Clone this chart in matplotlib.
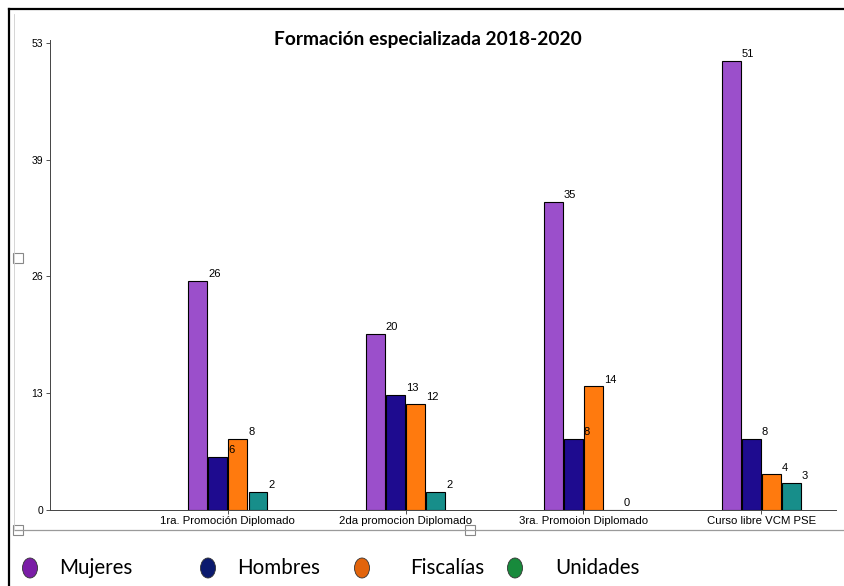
import matplotlib
matplotlib.use("Agg")
import matplotlib.pyplot as plt
from matplotlib.patches import Ellipse, Rectangle
from matplotlib.lines import Line2D
import numpy as np

categories = ["1ra. Promoción Diplomado", "2da promocion Diplomado",
              "3ra. Promoion Diplomado", "Curso libre VCM PSE"]
series_names = ["Mujeres", "Hombres", "Fiscalías", "Unidades"]
mujeres = [26, 20, 35, 51]
hombres = [6, 13, 8, 8]
fiscalias = [8, 12, 14, 4]
unidades = [2, 2, 0, 3]
ytick_values = [0, 13.25, 26.5, 39.75, 53]
ytick_labels = ["0", "13", "26", "39", "53"]
title = "Formación especializada 2018-2020"

bar_colors = ["#9B4FCB", "#1E0B8F", "#FF7A0E", "#178E8A"]
legend_colors = ["#7A1DA6", "#0B1A6E", "#E2640C", "#188A3C"]

W, H = 844, 586
fig = plt.figure(figsize=(W / 100, H / 100), dpi=100)
fig.patch.set_facecolor("white")

def fx(px):
    return px / W

def fy(py):
    return 1 - py / H

ax = fig.add_axes([fx(50), fy(509.5), fx(836) - fx(50), fy(40.5) - fy(509.5)])
ax.set_facecolor("none")

x = np.arange(1, len(categories) + 1)
step = 0.113
width = 0.106
all_series = [mujeres, hombres, fiscalias, unidades]
for i, (vals, col) in enumerate(zip(all_series, bar_colors)):
    pos = x + (i - 1.5) * step
    ax.bar(pos, vals, width=width, color=col, edgecolor="black", linewidth=0.8, zorder=3)
    for p, v in zip(pos, vals):
        ax.text(p + width / 2 + 0.005, v + 0.2, str(v), fontsize=8,
                ha="left", va="bottom", family="Liberation Sans", zorder=4)

ax.set_xlim(0, 4.42)
ax.set_ylim(0, 53.3)
ax.set_yticks(ytick_values)
ax.set_yticklabels(ytick_labels, fontsize=7.5, family="Liberation Sans")
ax.set_xticks(x)
ax.set_xticklabels(categories, fontsize=8.2, family="Liberation Sans")
ax.tick_params(axis="y", length=3, width=0.6, pad=2, colors="#333333")
ax.tick_params(axis="x", length=3, width=0.6, pad=2, colors="#333333")
for lab in ax.get_xticklabels() + ax.get_yticklabels():
    lab.set_color("black")
for s in ["top", "right"]:
    ax.spines[s].set_visible(False)
ax.spines["left"].set_color("#444444")
ax.spines["bottom"].set_color("#444444")
ax.spines["left"].set_linewidth(0.7)
ax.spines["bottom"].set_linewidth(0.7)

fig.text(fx(428), fy(40), title, fontsize=13.8, fontweight="bold",
         family="Lato", ha="center", va="center")

# outer frame lines
fig.add_artist(Line2D([fx(9), fx(9)], [fy(9), 0], color="black", lw=1.6))
fig.add_artist(Line2D([fx(9), 1], [fy(9), fy(9)], color="black", lw=1.6))
# chart box bottom
fig.add_artist(Line2D([fx(14), 1], [fy(530), fy(530)], color="#9a9a9a", lw=0.9))
fig.add_artist(Line2D([fx(14), fx(14)], [fy(14), fy(530)], color="#cfcfcf", lw=0.6))
for (hx, hy) in [(18, 258), (18, 530), (470, 530)]:
    fig.add_artist(Rectangle((fx(hx - 5), fy(hy + 5)), fx(10), 10 / H,
                             facecolor="white", edgecolor="#888888", lw=0.8))

# legend
mx = [30, 208, 362, 515]
tx = [59, 237, 410, 555]
ly = 568
for name, col, m, t in zip(series_names, legend_colors, mx, tx):
    fig.add_artist(Ellipse((fx(m), fy(ly)), 15 / W, 20 / H,
                           facecolor=col, edgecolor="#333333", lw=0.6))
    fig.text(fx(t), fy(ly), name, fontsize=14.8, family="Lato",
             ha="left", va="center")

fig.savefig("out.png", dpi=100)
